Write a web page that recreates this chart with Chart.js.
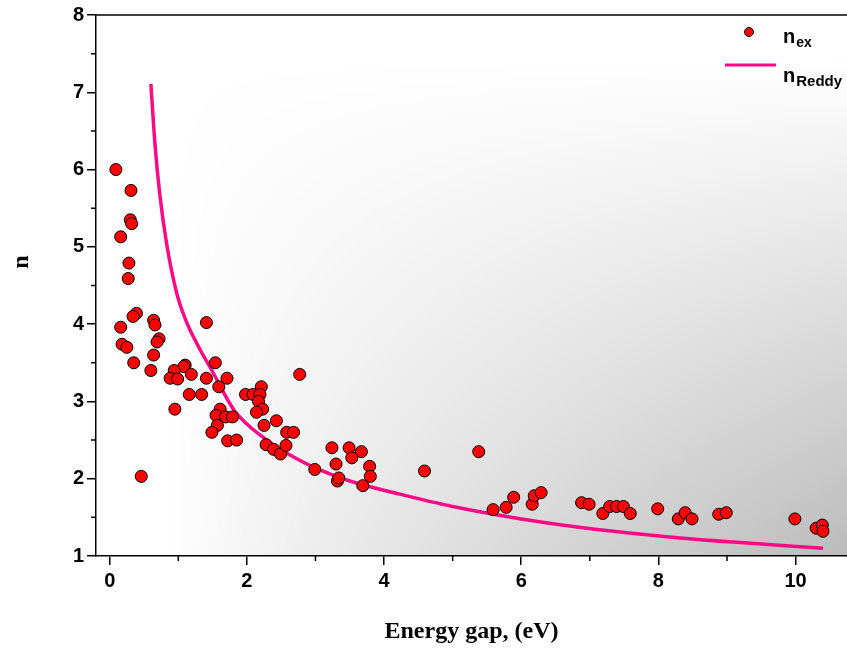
<!DOCTYPE html>
<html>
<head>
<meta charset="utf-8">
<script src="https://cdn.jsdelivr.net/npm/chart.js@4/dist/chart.umd.min.js"></script>
<style>
  html, body { margin: 0; padding: 0; background: #fff; }
</style>
</head>
<body>
<canvas id="gap_chart" width="847" height="651"></canvas>
<script>
// measured refractive index vs band gap
var gapEx = [0.09, 0.31, 0.30, 0.32, 0.16, 0.28, 0.27, 0.39, 0.34, 0.64, 0.66, 0.16, 0.72, 0.69, 0.18, 0.25, 0.64, 0.35, 0.60, 0.46,
             1.41, 1.54, 1.10, 1.08, 0.94, 1.19, 0.88, 0.99, 1.41, 1.71, 1.59, 2.77, 1.16, 1.34, 0.95, 1.98, 2.09, 2.21, 2.19, 2.17,
             2.23, 2.14, 1.61, 1.55, 1.69, 1.79, 1.57, 1.49, 1.72, 1.85, 2.43, 2.25, 2.58, 2.68, 2.28, 2.39, 2.49, 2.57, 2.99,
             3.24, 3.49, 3.67, 3.53, 3.30, 3.79, 3.80, 3.32, 3.34, 3.69, 4.59, 5.38, 5.59, 5.78, 5.89, 6.16, 6.19, 6.29,
             6.88, 6.99, 7.19, 7.29, 7.39, 7.49, 7.59, 7.99, 8.29, 8.39, 8.49, 8.88, 8.99, 9.99, 10.30, 10.39, 10.40];
var nEx = [6.00, 5.73, 5.35, 5.30, 5.13, 4.79, 4.59, 4.14, 4.10, 4.05, 3.99, 3.96, 3.81, 3.77, 3.74, 3.70, 3.60, 3.50, 3.40, 2.03,
           4.02, 3.50, 3.47, 3.45, 3.40, 3.35, 3.30, 3.29, 3.30, 3.30, 3.19, 3.35, 3.09, 3.09, 2.90, 3.09, 3.09, 3.19, 3.09, 3.00,
           2.90, 2.86, 2.90, 2.82, 2.80, 2.80, 2.69, 2.60, 2.49, 2.50, 2.75, 2.69, 2.60, 2.60, 2.44, 2.38, 2.32, 2.43, 2.12,
           2.40, 2.40, 2.35, 2.27, 2.19, 2.16, 2.03, 1.97, 2.01, 1.91, 2.10, 2.35, 1.60, 1.63, 1.76, 1.67, 1.78, 1.82,
           1.69, 1.67, 1.55, 1.64, 1.64, 1.64, 1.55, 1.61, 1.48, 1.56, 1.48, 1.54, 1.56, 1.48, 1.36, 1.40, 1.32];

// Reddy relation curve
var gapReddy = [0.60, 0.66, 0.73, 0.83, 0.98, 1.11, 1.27, 1.49, 1.82, 2.26, 2.70, 3.02, 3.50, 4.23, 5.00, 6.00, 7.14, 8.12, 9.09, 10.40];
var nReddy   = [7.11, 6.33, 5.68, 5.04, 4.39, 4.05, 3.75, 3.40, 2.88, 2.52, 2.27, 2.13, 1.97, 1.80, 1.64, 1.48, 1.34, 1.25, 1.18, 1.10];

var xTicks = [0, 2, 4, 6, 8, 10];
var xMinor = [1, 3, 5, 7, 9];
var yTicks = [1, 2, 3, 4, 5, 6, 7, 8];
var yMinor = [1.5, 2.5, 3.5, 4.5, 5.5, 6.5, 7.5];

var pink = '#ff0a86';
var tickFont = { family: 'Liberation Sans, Arial, sans-serif', weight: 'bold', size: 20 };

function toPoints(xs, ys) {
  return xs.map(function (x, i) { return { x: x, y: ys[i] }; });
}

function clamp01(v) { return v < 0 ? 0 : (v > 1 ? 1 : v); }

// shaded plot background: white on the left and top, grey toward the lower right
var shade = {
  id: 'shade',
  beforeDraw: function (chart) {
    var a = chart.chartArea, ctx = chart.ctx;
    var w = Math.round(a.right - a.left), h = Math.round(a.bottom - a.top);
    if (!chart._shadeImg || chart._shadeImg.width !== w || chart._shadeImg.height !== h) {
      var off = document.createElement('canvas');
      off.width = w; off.height = h;
      var octx = off.getContext('2d');
      var img = octx.createImageData(w, h);
      var x0 = 0.10 * w, y0 = 0.08 * h;
      for (var j = 0; j < h; j++) {
        var fy = clamp01((j - y0) / (h - y0));
        for (var i = 0; i < w; i++) {
          var fx = Math.pow(clamp01((i - x0) / (w - x0)), 0.85);
          var g = Math.round(255 - 68 * fx * fy);
          var k = (j * w + i) * 4;
          img.data[k] = g; img.data[k + 1] = g; img.data[k + 2] = g; img.data[k + 3] = 255;
        }
      }
      octx.putImageData(img, 0, 0);
      chart._shadeImg = off;
    }
    ctx.drawImage(chart._shadeImg, a.left, a.top);
  }
};

// minor ticks, top frame line, y title and the legend
var extras = {
  id: 'extras',
  afterDraw: function (chart) {
    var ctx = chart.ctx, a = chart.chartArea;
    var xs = chart.scales.x, ys = chart.scales.y;
    ctx.save();
    ctx.strokeStyle = '#000';
    ctx.lineWidth = 1.5;
    ctx.beginPath();
    xMinor.forEach(function (v) {
      var px = xs.getPixelForValue(v);
      ctx.moveTo(px, a.bottom); ctx.lineTo(px, a.bottom + 5);
    });
    yMinor.forEach(function (v) {
      var py = ys.getPixelForValue(v);
      ctx.moveTo(a.left, py); ctx.lineTo(a.left - 5, py);
    });
    ctx.moveTo(a.left, a.top); ctx.lineTo(a.right, a.top);
    ctx.stroke();

    // y axis title
    ctx.save();
    ctx.translate(22, 262);
    ctx.rotate(-Math.PI / 2);
    ctx.fillStyle = '#000';
    ctx.font = 'bold 24px "Liberation Serif", "Times New Roman", serif';
    ctx.textAlign = 'center';
    ctx.textBaseline = 'middle';
    ctx.fillText('n', 0, 0);
    ctx.restore();

    // legend
    var ds0 = chart.data.datasets[0], ds1 = chart.data.datasets[1];
    ctx.beginPath();
    ctx.arc(749, 32, 4.5, 0, Math.PI * 2);
    ctx.fillStyle = ds0.backgroundColor;
    ctx.fill();
    ctx.lineWidth = 1;
    ctx.strokeStyle = '#000';
    ctx.stroke();

    ctx.beginPath();
    ctx.moveTo(725, 65); ctx.lineTo(776, 65);
    ctx.strokeStyle = ds1.borderColor;
    ctx.lineWidth = 3;
    ctx.stroke();

    ctx.fillStyle = '#000';
    ctx.textAlign = 'left';
    ctx.textBaseline = 'alphabetic';
    ctx.font = 'bold 20px "Liberation Sans", Arial, sans-serif';
    var nw = ctx.measureText('n').width;
    ctx.fillText('n', 783, 43);
    ctx.fillText('n', 783, 82);
    ctx.font = 'bold 14px "Liberation Sans", Arial, sans-serif';
    ctx.fillText('ex', 784 + nw, 47);
    ctx.font = 'bold 15px "Liberation Sans", Arial, sans-serif';
    ctx.fillText('Reddy', 784 + nw, 86);
    ctx.restore();
  }
};

var ctx = document.getElementById('gap_chart').getContext('2d');
var gapChart = new Chart(ctx, {
  type: 'scatter',
  data: {
    datasets: [
      {
        label: 'n_ex',
        data: toPoints(gapEx, nEx),
        backgroundColor: '#ff0000',
        borderColor: '#000',
        borderWidth: 1,
        pointRadius: 6,
        pointHoverRadius: 6
      },
      {
        label: 'n_Reddy',
        type: 'line',
        data: toPoints(gapReddy, nReddy),
        borderColor: pink,
        borderWidth: 3.5,
        pointRadius: 0,
        fill: false,
        cubicInterpolationMode: 'monotone'
      }
    ]
  },
  options: {
    responsive: false,
    animation: false,
    layout: { autoPadding: false, padding: { top: 13, right: 0, left: 0, bottom: 0 } },
    plugins: {
      legend: { display: false },
      tooltip: { enabled: false }
    },
    scales: {
      x: {
        type: 'linear',
        min: -0.2,
        max: 10.75,
        afterBuildTicks: function (s) { s.ticks = xTicks.map(function (v) { return { value: v }; }); },
        afterFit: function (s) { s.height = 95; s.paddingRight = 0; s.paddingLeft = 0; },
        grid: { drawOnChartArea: false, drawTicks: true, tickLength: 9, color: '#000', lineWidth: 1.5 },
        border: { display: true, color: '#000', width: 1.5 },
        ticks: { font: tickFont, color: '#000', padding: 4, maxRotation: 0 },
        title: {
          display: true,
          text: 'Energy gap, (eV)',
          color: '#000',
          font: { family: 'Liberation Serif, Times New Roman, serif', weight: 'bold', size: 24 },
          padding: { top: 0, bottom: 5 }
        }
      },
      y: {
        type: 'linear',
        min: 1,
        max: 8,
        afterBuildTicks: function (s) { s.ticks = yTicks.map(function (v) { return { value: v }; }); },
        afterFit: function (s) { s.width = 96; },
        grid: { drawOnChartArea: false, drawTicks: true, tickLength: 9, color: '#000', lineWidth: 1.5 },
        border: { display: true, color: '#000', width: 1.5 },
        ticks: { font: tickFont, color: '#000', padding: 3 }
      }
    }
  },
  plugins: [shade, extras]
});
</script>
</body>
</html>
